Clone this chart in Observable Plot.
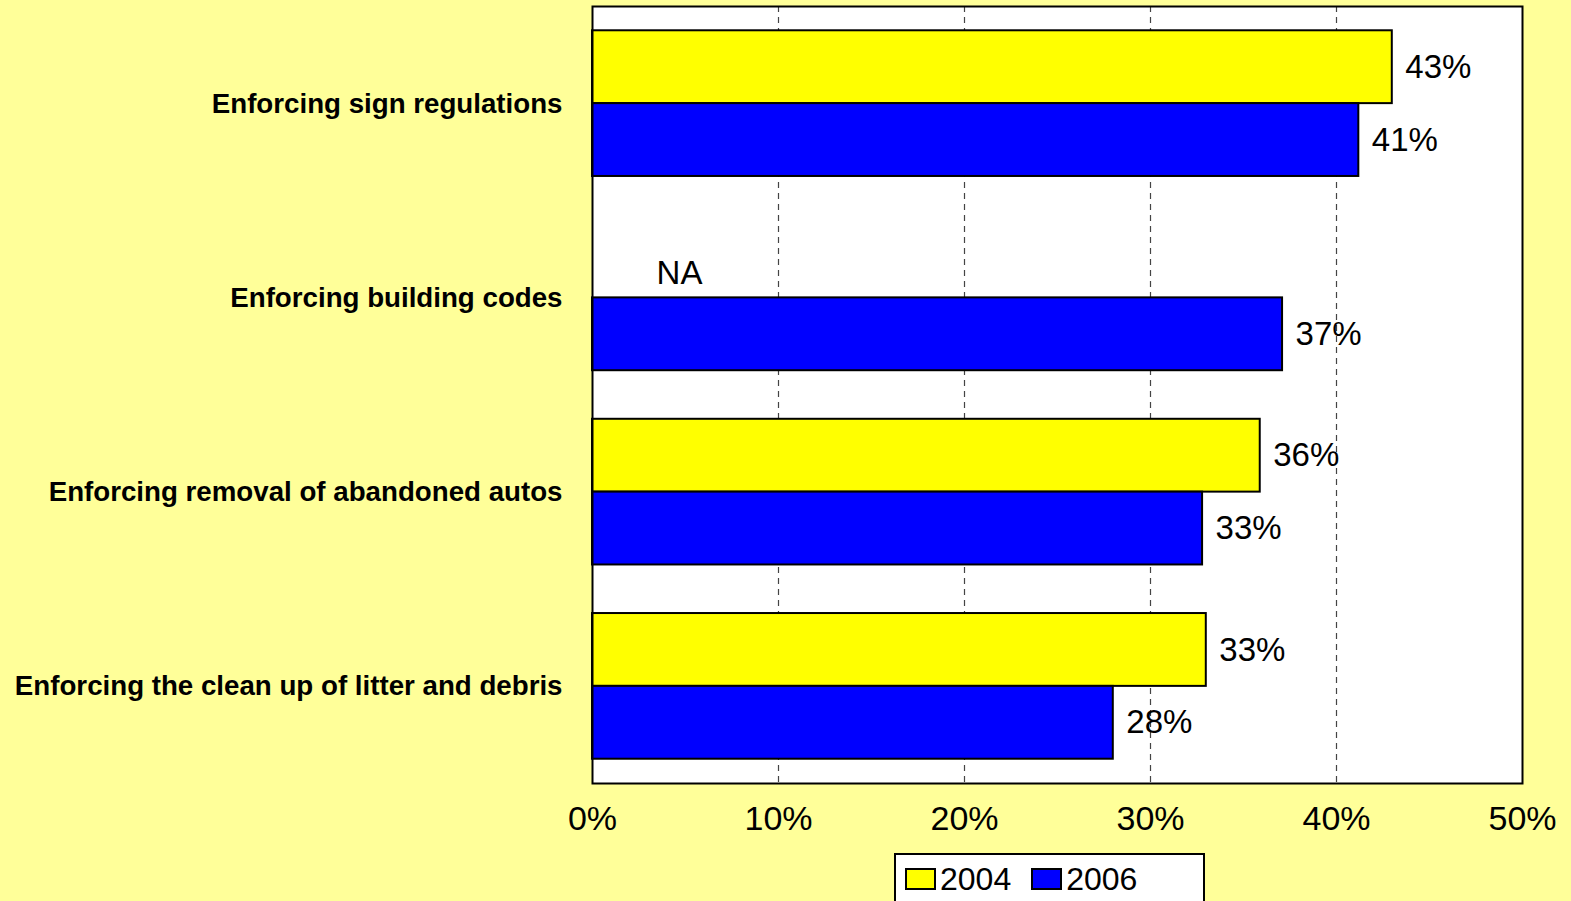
<!DOCTYPE html>
<html>
<head>
<meta charset="utf-8">
<script src="https://cdn.jsdelivr.net/npm/d3@7"></script>
<script src="https://cdn.jsdelivr.net/npm/@observablehq/plot@0.6"></script>
<style>
  html, body { margin: 0; padding: 0; background: #FFFF99; overflow: hidden; }
  #wrap { position: relative; width: 1571px; height: 901px; font-family: "Liberation Sans", Arial, sans-serif; }
  #legend { position: absolute; left: 894px; top: 853px; width: 311px; height: 60px; background: #fff; border: 2px solid #000; box-sizing: border-box; display: flex; align-items: flex-start; padding-top: 8px; padding-left: 9px; }
  .item { display: flex; align-items: center; font-size: 32px; color: #000; margin-right: 20px; line-height: 32px; }
  .sw { width: 27px; height: 18px; border: 2px solid #000; margin-right: 4px; }
</style>
</head>
<body>
<div id="wrap">
  <div id="chart"></div>
  <div id="legend"></div>
</div>
<script>
const categories = [
  "Enforcing sign regulations",
  "Enforcing building codes",
  "Enforcing removal of abandoned autos",
  "Enforcing the clean up of litter and debris"
];
const years = ["2004", "2006"];
const values2004 = [43, null, 35.9, 33];
const values2006 = [41.2, 37.1, 32.8, 28];
const naLabels = [{category: "Enforcing building codes", year: "2004", text: "NA"}];
const xTicks = [0, 10, 20, 30, 40, 50];
const gridTicks = [10, 20, 30, 40];
const colors = {"2004": "#FFFF00", "2006": "#0000FF"};

const rows = [];
categories.forEach((c, i) => {
  rows.push({category: c, year: "2004", value: values2004[i]});
  rows.push({category: c, year: "2006", value: values2006[i]});
});
const data = rows.filter(d => d.value != null);

const half = 0.375; // half-band in category units
const idx = c => categories.indexOf(c);
const yTop = d => d.year === "2004" ? idx(d.category) - half : idx(d.category);
const yBot = d => d.year === "2004" ? idx(d.category) : idx(d.category) + half;
const yMid = d => (yTop(d) + yBot(d)) / 2;

const chart = Plot.plot({
  width: 1571,
  height: 901,
  marginLeft: 592,
  marginRight: 49,
  marginTop: 6,
  marginBottom: 118,
  style: {background: "transparent", fontFamily: "'Liberation Sans', Arial, sans-serif", color: "#000"},
  x: {domain: [0, 50]},
  y: {domain: [-0.5, categories.length - 0.5], reverse: true},
  marks: [
    Plot.frame({fill: "#fff"}),
    Plot.ruleX(gridTicks, {stroke: "#444", strokeWidth: 1.2, strokeDasharray: "6,5"}),
    Plot.rect(data, {x1: 0, x2: "value", y1: yTop, y2: yBot, fill: d => colors[d.year], stroke: "#000", strokeWidth: 2}),
    Plot.text(data, {x: "value", y: yMid, text: d => Math.round(d.value) + "%", textAnchor: "start", dx: 13, fontSize: 33, fill: "#000"}),
    Plot.text(naLabels, {x: 0, y: d => idx(d.category) - half / 2, text: "text", textAnchor: "middle", dx: 87, dy: 12, fontSize: 33, fill: "#000"}),
    Plot.frame({stroke: "#000", strokeWidth: 2}),
    Plot.axisX(xTicks, {tickSize: 0, tickPadding: 22, tickFormat: d => d + "%", fontSize: 34, label: null}),
    Plot.axisY(d3.range(categories.length), {tickSize: 0, tickPadding: 30, tickFormat: i => categories[i], fontSize: 27.7, fontWeight: "bold", label: null})
  ]
});
document.getElementById("chart").appendChild(chart);

const legend = document.getElementById("legend");
years.forEach(y => {
  const item = document.createElement("div");
  item.className = "item";
  const sw = document.createElement("div");
  sw.className = "sw";
  sw.style.background = colors[y];
  const t = document.createElement("span");
  t.textContent = y;
  item.appendChild(sw);
  item.appendChild(t);
  legend.appendChild(item);
});
</script>
</body>
</html>
